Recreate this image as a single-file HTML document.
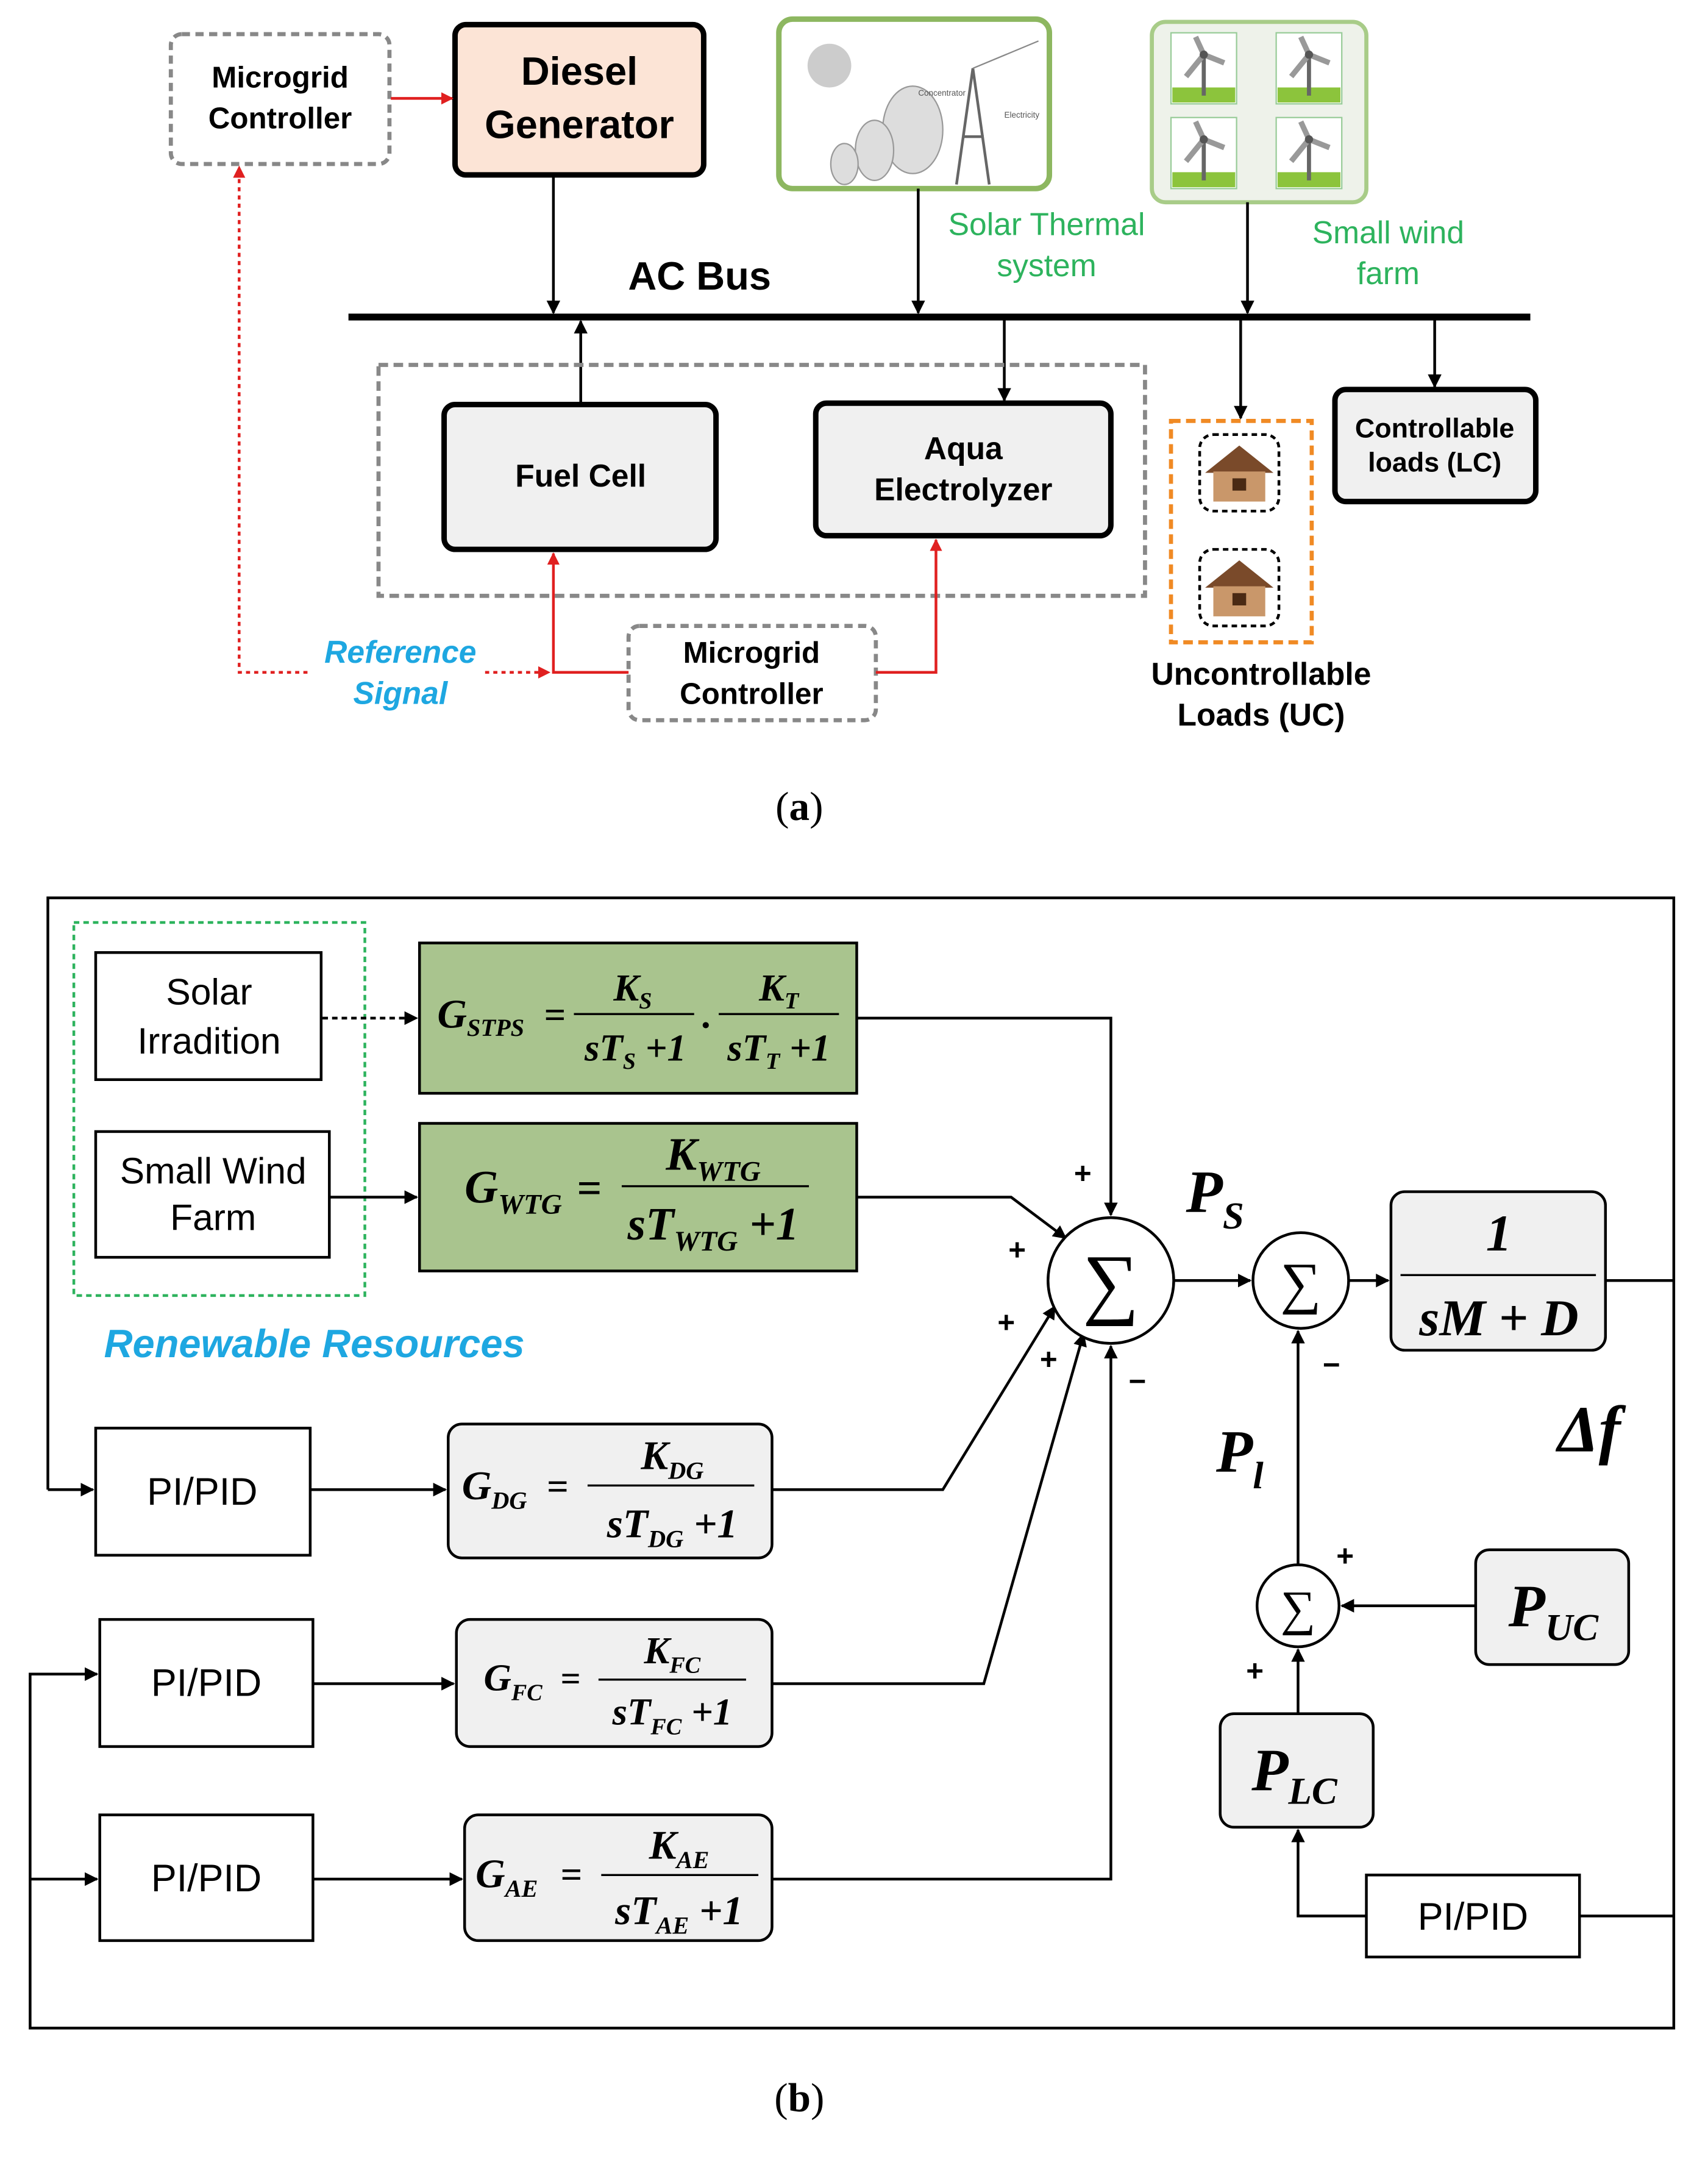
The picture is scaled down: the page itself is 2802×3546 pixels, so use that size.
<!DOCTYPE html>
<html><head><meta charset="utf-8"><style>
html,body{margin:0;padding:0;background:#fff}
svg{display:block}
text{font-family:"Liberation Sans",sans-serif}
.m{font-family:"Liberation Serif",serif;font-weight:bold;font-style:italic}
</style></head><body>
<svg width="2802" height="3546" viewBox="0 0 1250 1582" xmlns="http://www.w3.org/2000/svg">
<defs>
<marker id="ab" viewBox="0 0 10 10" refX="9" refY="5" markerWidth="10" markerHeight="10" orient="auto-start-reverse" markerUnits="userSpaceOnUse"><path d="M0,0L10,5L0,10z" fill="#000"/></marker>
<marker id="ar" viewBox="0 0 10 10" refX="9" refY="5" markerWidth="9" markerHeight="9" orient="auto-start-reverse" markerUnits="userSpaceOnUse"><path d="M0,0L10,5L0,10z" fill="#e02020"/></marker>
</defs>
<rect width="1250" height="1582" fill="#fff"/>

<!-- ===== Part a ===== -->
<rect x="125" y="25" width="160" height="95" rx="8" fill="#fff" stroke="#888" stroke-width="3" stroke-dasharray="6,4"/>
<text x="205" y="64" font-size="22" font-weight="bold" text-anchor="middle">Microgrid</text>
<text x="205" y="94" font-size="22" font-weight="bold" text-anchor="middle">Controller</text>
<rect x="333" y="18" width="182" height="110" rx="8" fill="#fce4d6" stroke="#000" stroke-width="4"/>
<text x="424" y="62" font-size="29" font-weight="bold" text-anchor="middle">Diesel</text>
<text x="424" y="101" font-size="29" font-weight="bold" text-anchor="middle">Generator</text>
<line x1="286" y1="72" x2="331" y2="72" stroke="#e02020" stroke-width="2" marker-end="url(#ar)"/>

<rect x="570" y="14" width="198" height="124" rx="10" fill="#fff" stroke="#8db760" stroke-width="4"/>
<circle cx="607" cy="48" r="16" fill="#ccc"/>
<ellipse cx="668" cy="95" rx="22" ry="32" fill="#ddd" stroke="#999"/>
<ellipse cx="640" cy="110" rx="14" ry="22" fill="#ddd" stroke="#999"/>
<ellipse cx="618" cy="120" rx="10" ry="15" fill="#ddd" stroke="#999"/>
<path d="M700,135 L712,50 L724,135 M705,100 L720,100" stroke="#666" fill="none" stroke-width="2"/>
<line x1="712" y1="50" x2="760" y2="30" stroke="#888"/>
<text x="672" y="70" font-size="6" fill="#555">Concentrator</text>
<text x="735" y="86" font-size="6" fill="#555">Electricity</text>
<text x="766" y="172" font-size="23" fill="#2db35d" text-anchor="middle">Solar Thermal</text>
<text x="766" y="202" font-size="23" fill="#2db35d" text-anchor="middle">system</text>

<rect x="843" y="16" width="157" height="132" rx="10" fill="#eef2ea" stroke="#a8cc88" stroke-width="3"/>
<g id="wt">
<rect x="857" y="24" width="48" height="52" fill="#fff" stroke="#9c9"/>
<rect x="858" y="64" width="46" height="11" fill="#8cc43c"/>
<line x1="881" y1="40" x2="881" y2="70" stroke="#666" stroke-width="3"/>
<path d="M881,40 L875,27 M881,40 L896,46 M881,40 L868,56" stroke="#999" stroke-width="4"/>
<circle cx="881" cy="40" r="3" fill="#555"/>
</g>
<use href="#wt" x="77"/><use href="#wt" y="62"/><use href="#wt" x="77" y="62"/>
<text x="1016" y="178" font-size="23" fill="#2db35d" text-anchor="middle">Small wind</text>
<text x="1016" y="208" font-size="23" fill="#2db35d" text-anchor="middle">farm</text>

<text x="512" y="212" font-size="29" font-weight="bold" text-anchor="middle">AC Bus</text>
<line x1="255" y1="232" x2="1120" y2="232" stroke="#000" stroke-width="5"/>
<g stroke="#000" stroke-width="2" fill="none">
<line x1="405" y1="128" x2="405" y2="229" marker-end="url(#ab)"/>
<line x1="672" y1="138" x2="672" y2="229" marker-end="url(#ab)"/>
<line x1="913" y1="148" x2="913" y2="229" marker-end="url(#ab)"/>
<line x1="1050" y1="234" x2="1050" y2="283" marker-end="url(#ab)"/>
<line x1="908" y1="234" x2="908" y2="306" marker-end="url(#ab)"/>
<line x1="735" y1="234" x2="735" y2="293" marker-end="url(#ab)"/>
<line x1="425" y1="296" x2="425" y2="235" marker-end="url(#ab)"/>
</g>
<rect x="277" y="267" width="561" height="169" fill="none" stroke="#888" stroke-width="3" stroke-dasharray="7,4"/>
<rect x="325" y="296" width="199" height="106" rx="8" fill="#f0f0f0" stroke="#000" stroke-width="4"/>
<text x="425" y="356" font-size="23" font-weight="bold" text-anchor="middle">Fuel Cell</text>
<rect x="597" y="295" width="216" height="97" rx="8" fill="#f0f0f0" stroke="#000" stroke-width="4"/>
<text x="705" y="336" font-size="23" font-weight="bold" text-anchor="middle">Aqua</text>
<text x="705" y="366" font-size="23" font-weight="bold" text-anchor="middle">Electrolyzer</text>
<rect x="977" y="285" width="147" height="82" rx="8" fill="#f0f0f0" stroke="#000" stroke-width="4"/>
<text x="1050" y="320" font-size="20" font-weight="bold" text-anchor="middle">Controllable</text>
<text x="1050" y="345" font-size="20" font-weight="bold" text-anchor="middle">loads (LC)</text>
<rect x="857" y="308" width="103" height="162" fill="none" stroke="#f08a24" stroke-width="3" stroke-dasharray="7,4"/>
<g id="hs">
<rect x="878" y="318" width="58" height="56" rx="10" fill="#fff" stroke="#000" stroke-width="2" stroke-dasharray="4,3"/>
<path d="M882,346 L907,326 L932,346 Z" fill="#7a4a2a"/>
<rect x="888" y="345" width="38" height="22" fill="#c9976a"/>
<rect x="902" y="350" width="10" height="9" fill="#4a2a14"/>
</g>
<use href="#hs" y="84"/>
<text x="923" y="501" font-size="23" font-weight="bold" text-anchor="middle">Uncontrollable</text>
<text x="923" y="531" font-size="23" font-weight="bold" text-anchor="middle">Loads (UC)</text>

<rect x="460" y="458" width="181" height="69" rx="8" fill="#fff" stroke="#888" stroke-width="3" stroke-dasharray="6,4"/>
<text x="550" y="485" font-size="22" font-weight="bold" text-anchor="middle">Microgrid</text>
<text x="550" y="515" font-size="22" font-weight="bold" text-anchor="middle">Controller</text>
<g stroke="#e02020" stroke-width="2" fill="none">
<polyline points="460,492 405,492 405,405" marker-end="url(#ar)"/>
<polyline points="641,492 685,492 685,395" marker-end="url(#ar)"/>
<polyline points="225,492 175,492 175,122" stroke-dasharray="3,3" marker-end="url(#ar)"/>
<line x1="355" y1="492" x2="402" y2="492" stroke-dasharray="3,3" marker-end="url(#ar)"/>
</g>
<text x="293" y="485" font-size="23" font-weight="bold" font-style="italic" fill="#1ea7e1" text-anchor="middle">Reference</text>
<text x="293" y="515" font-size="23" font-weight="bold" font-style="italic" fill="#1ea7e1" text-anchor="middle">Signal</text>
<text x="585" y="600" font-size="30" text-anchor="middle" style="font-family:'Liberation Serif',serif">(<tspan font-weight="bold">a</tspan>)</text>

<!-- ===== Part b ===== -->
<g stroke="#000" stroke-width="2" fill="none">
<polyline points="35,1090 35,657 1225,657 1225,1484 22,1484 22,1225 71,1225" marker-end="url(#ab)"/>
<line x1="35" y1="1090" x2="68" y2="1090" marker-end="url(#ab)"/>
<line x1="22" y1="1375" x2="71" y2="1375" marker-end="url(#ab)"/>
<line x1="1175" y1="937" x2="1225" y2="937"/>
</g>
<rect x="54" y="675" width="213" height="273" fill="none" stroke="#2db35d" stroke-width="2" stroke-dasharray="4,3"/>
<rect x="70" y="697" width="165" height="93" fill="#fff" stroke="#000" stroke-width="2"/>
<text x="153" y="735" font-size="27" text-anchor="middle">Solar</text>
<text x="153" y="771" font-size="27" text-anchor="middle">Irradition</text>
<rect x="70" y="828" width="171" height="92" fill="#fff" stroke="#000" stroke-width="2"/>
<text x="156" y="866" font-size="27" text-anchor="middle">Small Wind</text>
<text x="156" y="900" font-size="27" text-anchor="middle">Farm</text>
<line x1="236" y1="745" x2="305" y2="745" stroke="#000" stroke-width="2" stroke-dasharray="4,3" marker-end="url(#ab)"/>
<line x1="241" y1="876" x2="305" y2="876" stroke="#000" stroke-width="2" marker-end="url(#ab)"/>
<text x="230" y="993" font-size="29" font-weight="bold" font-style="italic" fill="#1ea7e1" text-anchor="middle">Renewable Resources</text>

<rect x="307" y="690" width="320" height="110" fill="#a9c48e" stroke="#000" stroke-width="2"/>
<text class="m" x="320" y="752" font-size="30">G<tspan font-size="18" dy="6">STPS</tspan></text>
<text class="m" x="398" y="752" font-size="28" font-style="normal">=</text>
<text class="m" x="463" y="732" font-size="28" text-anchor="middle">K<tspan font-size="17" dy="6">S</tspan></text>
<line x1="420" y1="742" x2="508" y2="742" stroke="#000" stroke-width="1.5"/>
<text class="m" x="465" y="776" font-size="28" text-anchor="middle">sT<tspan font-size="17" dy="6">S</tspan><tspan dy="-6"> +1</tspan></text>
<text class="m" x="514" y="752" font-size="28">.</text>
<text class="m" x="570" y="732" font-size="28" text-anchor="middle">K<tspan font-size="17" dy="6">T</tspan></text>
<line x1="526" y1="742" x2="614" y2="742" stroke="#000" stroke-width="1.5"/>
<text class="m" x="570" y="776" font-size="28" text-anchor="middle">sT<tspan font-size="17" dy="6">T</tspan><tspan dy="-6"> +1</tspan></text>

<rect x="307" y="822" width="320" height="108" fill="#a9c48e" stroke="#000" stroke-width="2"/>
<text class="m" x="340" y="880" font-size="34">G<tspan font-size="21" dy="8">WTG</tspan></text>
<text class="m" x="422" y="880" font-size="32" font-style="normal">=</text>
<text class="m" x="522" y="856" font-size="34" text-anchor="middle">K<tspan font-size="21" dy="8">WTG</tspan></text>
<line x1="455" y1="868" x2="592" y2="868" stroke="#000" stroke-width="1.5"/>
<text class="m" x="522" y="907" font-size="34" text-anchor="middle">sT<tspan font-size="21" dy="8">WTG</tspan><tspan dy="-8"> +1</tspan></text>

<rect x="70" y="1045" width="157" height="93" fill="#fff" stroke="#000" stroke-width="2"/>
<text x="148" y="1101" font-size="28" text-anchor="middle">PI/PID</text>
<rect x="73" y="1185" width="156" height="93" fill="#fff" stroke="#000" stroke-width="2"/>
<text x="151" y="1241" font-size="28" text-anchor="middle">PI/PID</text>
<rect x="73" y="1328" width="156" height="92" fill="#fff" stroke="#000" stroke-width="2"/>
<text x="151" y="1384" font-size="28" text-anchor="middle">PI/PID</text>
<g stroke="#000" stroke-width="2">
<line x1="227" y1="1090" x2="326" y2="1090" marker-end="url(#ab)"/>
<line x1="229" y1="1232" x2="332" y2="1232" marker-end="url(#ab)"/>
<line x1="229" y1="1375" x2="338" y2="1375" marker-end="url(#ab)"/>
</g>

<rect x="328" y="1042" width="237" height="98" rx="10" fill="#f0f0f0" stroke="#000" stroke-width="2"/>
<text class="m" x="338" y="1097" font-size="30">G<tspan font-size="18" dy="7">DG</tspan></text>
<text class="m" x="400" y="1097" font-size="28" font-style="normal">=</text>
<text class="m" x="492" y="1075" font-size="30" text-anchor="middle">K<tspan font-size="18" dy="7">DG</tspan></text>
<line x1="430" y1="1087" x2="552" y2="1087" stroke="#000" stroke-width="1.5"/>
<text class="m" x="492" y="1125" font-size="30" text-anchor="middle">sT<tspan font-size="18" dy="7">DG</tspan><tspan dy="-7"> +1</tspan></text>

<rect x="334" y="1185" width="231" height="93" rx="10" fill="#f0f0f0" stroke="#000" stroke-width="2"/>
<text class="m" x="354" y="1237" font-size="28">G<tspan font-size="17" dy="7">FC</tspan></text>
<text class="m" x="410" y="1237" font-size="26" font-style="normal">=</text>
<text class="m" x="492" y="1217" font-size="28" text-anchor="middle">K<tspan font-size="17" dy="7">FC</tspan></text>
<line x1="438" y1="1229" x2="546" y2="1229" stroke="#000" stroke-width="1.5"/>
<text class="m" x="492" y="1262" font-size="28" text-anchor="middle">sT<tspan font-size="17" dy="7">FC</tspan><tspan dy="-7"> +1</tspan></text>

<rect x="340" y="1328" width="225" height="92" rx="10" fill="#f0f0f0" stroke="#000" stroke-width="2"/>
<text class="m" x="348" y="1381" font-size="30">G<tspan font-size="18" dy="7">AE</tspan></text>
<text class="m" x="410" y="1381" font-size="28" font-style="normal">=</text>
<text class="m" x="497" y="1360" font-size="30" text-anchor="middle">K<tspan font-size="18" dy="7">AE</tspan></text>
<line x1="440" y1="1372" x2="555" y2="1372" stroke="#000" stroke-width="1.5"/>
<text class="m" x="497" y="1408" font-size="30" text-anchor="middle">sT<tspan font-size="18" dy="7">AE</tspan><tspan dy="-7"> +1</tspan></text>

<g stroke="#000" stroke-width="2" fill="none">
<polyline points="627,745 813,745 813,889" marker-end="url(#ab)"/>
<polyline points="627,876 740,876 780,906" marker-end="url(#ab)"/>
<polyline points="565,1090 690,1090 772,956" marker-end="url(#ab)"/>
<polyline points="565,1232 720,1232 793,976" marker-end="url(#ab)"/>
<polyline points="565,1375 813,1375 813,985" marker-end="url(#ab)"/>
<line x1="859" y1="937" x2="915" y2="937" marker-end="url(#ab)"/>
<line x1="987" y1="937" x2="1016" y2="937" marker-end="url(#ab)"/>
<line x1="950" y1="1145" x2="950" y2="974" marker-end="url(#ab)"/>
<line x1="1080" y1="1175" x2="982" y2="1175" marker-end="url(#ab)"/>
<line x1="950" y1="1254" x2="950" y2="1207" marker-end="url(#ab)"/>
<line x1="1225" y1="1402" x2="1156" y2="1402"/>
<polyline points="1000,1402 950,1402 950,1339" marker-end="url(#ab)"/>
</g>
<circle cx="813" cy="937" r="46" fill="#fff" stroke="#000" stroke-width="2"/>
<text x="813" y="958" font-size="58" text-anchor="middle" style="font-family:'Liberation Serif',serif">∑</text>
<circle cx="952" cy="937" r="35" fill="#fff" stroke="#000" stroke-width="2"/>
<text x="952" y="953" font-size="42" text-anchor="middle" style="font-family:'Liberation Serif',serif">∑</text>
<circle cx="950" cy="1175" r="30" fill="#fff" stroke="#000" stroke-width="2"/>
<text x="950" y="1189" font-size="36" text-anchor="middle" style="font-family:'Liberation Serif',serif">∑</text>

<rect x="1018" y="872" width="157" height="116" rx="10" fill="#f0f0f0" stroke="#000" stroke-width="2"/>
<text class="m" x="1097" y="915" font-size="38" text-anchor="middle">1</text>
<line x1="1025" y1="933" x2="1168" y2="933" stroke="#000" stroke-width="1.5"/>
<text class="m" x="1097" y="977" font-size="38" text-anchor="middle">sM + D</text>

<rect x="1080" y="1134" width="112" height="84" rx="10" fill="#f0f0f0" stroke="#000" stroke-width="2"/>
<text class="m" x="1104" y="1190" font-size="44">P<tspan font-size="28" dy="10">UC</tspan></text>
<rect x="893" y="1254" width="112" height="83" rx="10" fill="#f0f0f0" stroke="#000" stroke-width="2"/>
<text class="m" x="916" y="1310" font-size="44">P<tspan font-size="28" dy="10">LC</tspan></text>
<rect x="1000" y="1372" width="156" height="60" fill="#fff" stroke="#000" stroke-width="2"/>
<text x="1078" y="1412" font-size="28" text-anchor="middle">PI/PID</text>

<text class="m" x="868" y="887" font-size="44">P<tspan font-size="28" dy="12">S</tspan></text>
<text class="m" x="890" y="1077" font-size="44">P<tspan font-size="28" dy="12">l</tspan></text>
<text class="m" x="1140" y="1062" font-size="48">Δf</text>

<g font-size="22" font-weight="bold">
<text x="786" y="866">+</text>
<text x="738" y="922">+</text>
<text x="730" y="975">+</text>
<text x="761" y="1002">+</text>
<text x="826" y="1018">−</text>
<text x="968" y="1006">−</text>
<text x="978" y="1146">+</text>
<text x="912" y="1230">+</text>
</g>
<text x="585" y="1545" font-size="30" text-anchor="middle" style="font-family:'Liberation Serif',serif">(<tspan font-weight="bold">b</tspan>)</text>
</svg>
</body></html>
